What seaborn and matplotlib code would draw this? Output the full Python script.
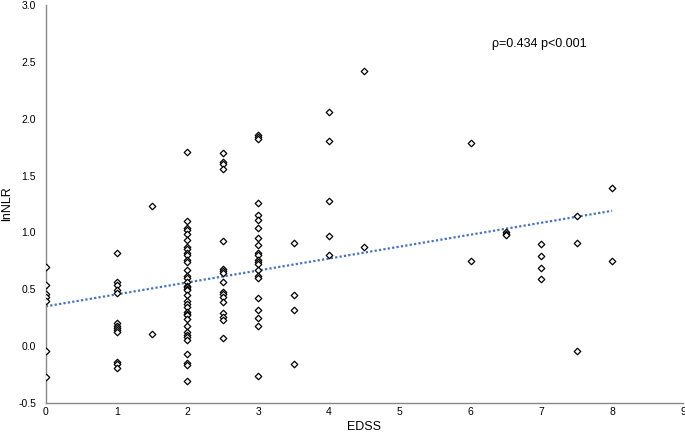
import numpy as np
import pandas as pd
import matplotlib
matplotlib.use("Agg")
import matplotlib.pyplot as plt
import seaborn as sns

# EDSS groups and lnNLR values
edss_0 = [0.70, 0.54, 0.46, 0.43, 0.40, -0.04, -0.27]
edss_1 = [0.82, 0.56, 0.54, 0.49, 0.47, 0.20, 0.18, 0.16, 0.14, 0.12, -0.14, -0.16, -0.19]
edss_1_5 = [1.23, 0.11]
edss_2 = [1.71, 1.10, 1.04, 1.02, 0.99, 0.93, 0.87, 0.85, 0.82, 0.80, 0.76, 0.74,
          0.67, 0.62, 0.60, 0.56, 0.53, 0.52, 0.50, 0.49, 0.45, 0.40, 0.37, 0.34,
          0.30, 0.28, 0.27, 0.24, 0.18, 0.12, 0.10, 0.08, 0.05, -0.07, -0.15, -0.17, -0.31]
edss_2_5 = [1.70, 1.62, 1.60, 1.56, 0.92, 0.68, 0.66, 0.64, 0.56, 0.48, 0.46, 0.43,
            0.39, 0.29, 0.26, 0.23, 0.07]
edss_3 = [1.86, 1.84, 1.82, 1.26, 1.15, 1.11, 1.04, 0.95, 0.89, 0.82, 0.80, 0.76,
          0.74, 0.72, 0.67, 0.62, 0.60, 0.42, 0.32, 0.25, 0.18, -0.26]
edss_3_5 = [0.91, 0.45, 0.32, -0.16]
edss_4 = [2.06, 1.80, 1.28, 0.97, 0.80]
edss_4_5 = [2.42, 0.87]
edss_6 = [1.79, 0.75]
edss_6_5 = [1.00, 0.99, 0.98]
edss_7 = [0.90, 0.79, 0.69, 0.59]
edss_7_5 = [1.14, 0.91, -0.04]
edss_8 = [1.39, 0.75]

groups = {0: edss_0, 1: edss_1, 1.5: edss_1_5, 2: edss_2, 2.5: edss_2_5, 3: edss_3,
          3.5: edss_3_5, 4: edss_4, 4.5: edss_4_5, 6: edss_6, 6.5: edss_6_5,
          7: edss_7, 7.5: edss_7_5, 8: edss_8}

x_ticks = [0, 1, 2, 3, 4, 5, 6, 7, 8, 9]
y_ticks = [-0.5, 0.0, 0.5, 1.0, 1.5, 2.0, 2.5, 3.0]
annotation = "ρ=0.434 p<0.001"

# trend line (intercept, slope)
trend_intercept = 0.35
trend_slope = 0.105

rows = [(k, v) for k, vals in groups.items() for v in vals]
df = pd.DataFrame(rows, columns=["EDSS", "lnNLR"])

sns.set_theme(style="white")
plt.rcParams['font.family'] = ['Liberation Sans', 'DejaVu Sans']
plt.rcParams['text.color'] = 'black'
plt.rcParams['axes.labelcolor'] = 'black'
plt.rcParams['xtick.color'] = 'black'
plt.rcParams['ytick.color'] = 'black'

fig = plt.figure(figsize=(6.85, 4.36), dpi=100)
ax = fig.add_axes([0.067, 0.0757, 0.93, 0.913])

sns.scatterplot(data=df, x="EDSS", y="lnNLR", ax=ax, marker="D", s=11,
                facecolor="white", edgecolor="black", linewidth=0.9, zorder=3)

xl = np.array([0, 8])
sns.lineplot(x=xl, y=trend_intercept + trend_slope * xl, ax=ax, color="#4472C4",
             linestyle=(0, (1, 1)), linewidth=1.6, zorder=2)

ax.set_xlim(0, 9)
ax.set_ylim(-0.5, 3.0)
ax.set_xticks(x_ticks)
ax.set_yticks(y_ticks)
ax.set_xticklabels([str(t) for t in x_ticks], fontsize=7.5)
ax.set_yticklabels([f"{t:.1f}" for t in y_ticks], fontsize=7.5)
ax.tick_params(axis="x", length=0, pad=3)
ax.tick_params(axis="y", length=0, pad=7)
ax.set_xlabel("EDSS", fontsize=9, labelpad=3)
ax.set_ylabel("lnNLR", fontsize=9, labelpad=4)
for s in ["top", "right"]:
    ax.spines[s].set_visible(False)
for s in ["left", "bottom"]:
    ax.spines[s].set_color("#888888")
    ax.spines[s].set_linewidth(1.0)

ax.text(6.3, 2.66, annotation, fontsize=9, ha="left", va="center")

fig.savefig("out.png", dpi=100)
